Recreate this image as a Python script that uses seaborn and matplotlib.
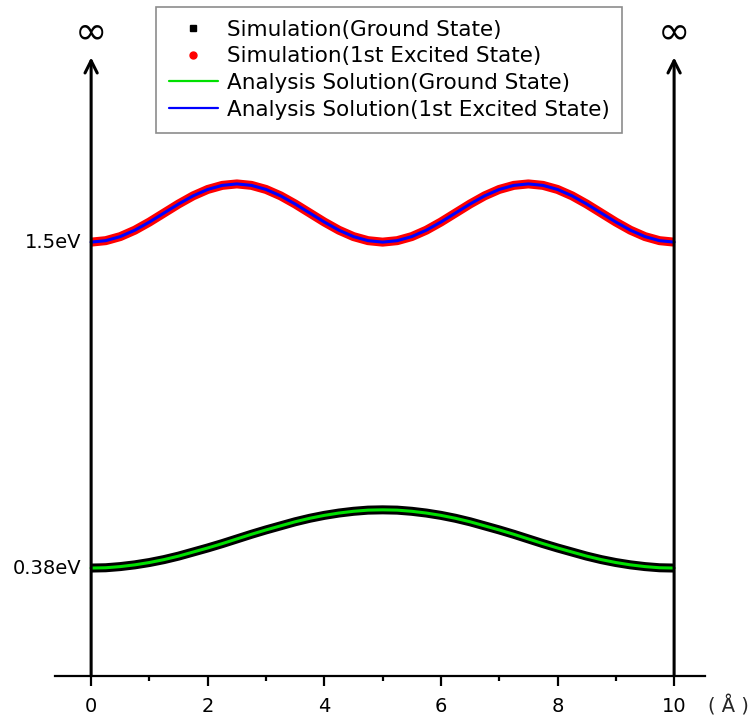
import matplotlib
matplotlib.use("Agg")
import matplotlib.pyplot as plt
import pandas as pd
import seaborn as sns
from matplotlib.lines import Line2D

# positions along the well (angstrom)
x_pos = [
    0.0, 0.25, 0.5, 0.75, 1.0, 1.25, 1.5, 1.75, 2.0, 2.25,
    2.5, 2.75, 3.0, 3.25, 3.5, 3.75, 4.0, 4.25, 4.5, 4.75,
    5.0, 5.25, 5.5, 5.75, 6.0, 6.25, 6.5, 6.75, 7.0, 7.25,
    7.5, 7.75, 8.0, 8.25, 8.5, 8.75, 9.0, 9.25, 9.5, 9.75, 10.0,
]
# ground state curve, offset at 0.38 eV
ground = [
    0.380, 0.381, 0.385, 0.391, 0.399, 0.409, 0.421, 0.435, 0.449, 0.464,
    0.480, 0.496, 0.511, 0.525, 0.539, 0.551, 0.561, 0.569, 0.575, 0.579,
    0.580, 0.579, 0.575, 0.569, 0.561, 0.551, 0.539, 0.525, 0.511, 0.496,
    0.480, 0.464, 0.449, 0.435, 0.421, 0.409, 0.399, 0.391, 0.385, 0.381, 0.380,
]
# first excited state curve, offset at 1.5 eV
excited = [
    1.500, 1.505, 1.519, 1.541, 1.569, 1.600, 1.631, 1.659, 1.681, 1.695,
    1.700, 1.695, 1.681, 1.659, 1.631, 1.600, 1.569, 1.541, 1.519, 1.505,
    1.500, 1.505, 1.519, 1.541, 1.569, 1.600, 1.631, 1.659, 1.681, 1.695,
    1.700, 1.695, 1.681, 1.659, 1.631, 1.600, 1.569, 1.541, 1.519, 1.505, 1.500,
]
level_values = [0.38, 1.5]
level_labels = ["0.38eV", "1.5eV"]
x_ticks = [0, 2, 4, 6, 8, 10]
legend_labels = [
    "Simulation(Ground State)",
    "Simulation(1st Excited State)",
    "Analysis Solution(Ground State)",
    "Analysis Solution(1st Excited State)",
]

sns.set_theme(style="ticks")
plt.rcParams["font.family"] = ["DejaVu Sans"]

frame = pd.DataFrame({"x": x_pos, "ground": ground, "excited": excited})

fig = plt.figure(figsize=(7.5, 7.22), dpi=100)
ax = fig.add_axes([0.0733, 0.0637, 0.8667, 0.9363])

y_min, y_max = 0.009, 2.332
ax.set_xlim(-0.62, 10.53)
ax.set_ylim(y_min, y_max)

# simulation bands (dense points drawn as thick strokes)
sns.lineplot(data=frame, x="x", y="ground", color="black", linewidth=6.5,
             legend=False, ax=ax, solid_capstyle="butt")
sns.lineplot(data=frame, x="x", y="excited", color="#ff0000", linewidth=6.5,
             legend=False, ax=ax, solid_capstyle="butt")
# analytical solutions
sns.lineplot(data=frame, x="x", y="ground", color="#00e000", linewidth=2.2,
             legend=False, ax=ax)
sns.lineplot(data=frame, x="x", y="excited", color="#0000ff", linewidth=2.2,
             legend=False, ax=ax)

# walls of the well
for wall in (0, 10):
    ax.annotate("", xy=(wall, 2.135), xytext=(wall, y_min),
                arrowprops=dict(arrowstyle="->", lw=2.2, color="black",
                                mutation_scale=22, shrinkA=0, shrinkB=0))
    ax.text(wall, 2.222, "\u221e", ha="center", va="center", fontsize=28,
            color="black")

for side in ("left", "right", "top"):
    ax.spines[side].set_visible(False)
ax.spines["bottom"].set_linewidth(1.6)
ax.spines["bottom"].set_color("black")

ax.set_xticks(x_ticks)
ax.set_xticks([1, 3, 5, 7, 9], minor=True)
ax.tick_params(axis="x", which="major", direction="out", length=7, width=1.6,
               labelsize=14, pad=8, colors="black")
ax.tick_params(axis="x", which="minor", direction="out", length=3.8, width=1.6,
               colors="black")
ax.set_yticks([])
ax.set_xlabel("")
ax.set_ylabel("")

# energy level labels next to the left wall
for val, lab in zip(level_values, level_labels):
    ax.text(-0.16, val, lab, ha="right", va="center", fontsize=14,
            color="black")

ax.text(10.93, -0.094, "( Å )", ha="center", va="center", fontsize=14,
        clip_on=False)

handles = [
    Line2D([], [], linestyle="none", marker="s", markersize=5, color="black"),
    Line2D([], [], linestyle="none", marker="o", markersize=5, color="#ff0000"),
    Line2D([], [], color="#00e000", linewidth=1.6),
    Line2D([], [], color="#0000ff", linewidth=1.6),
]
leg = ax.legend(handles, legend_labels, loc="upper left",
                bbox_to_anchor=(0.155, 0.99), fontsize=15.5, frameon=True,
                fancybox=False, edgecolor="#707070", handlelength=2.3,
                handletextpad=0.4, borderpad=0.6, labelspacing=0.31,
                borderaxespad=0)
leg.get_frame().set_linewidth(1.2)
for txt in leg.get_texts():
    txt.set_color("black")

fig.savefig("out.png", dpi=100, facecolor="white")
